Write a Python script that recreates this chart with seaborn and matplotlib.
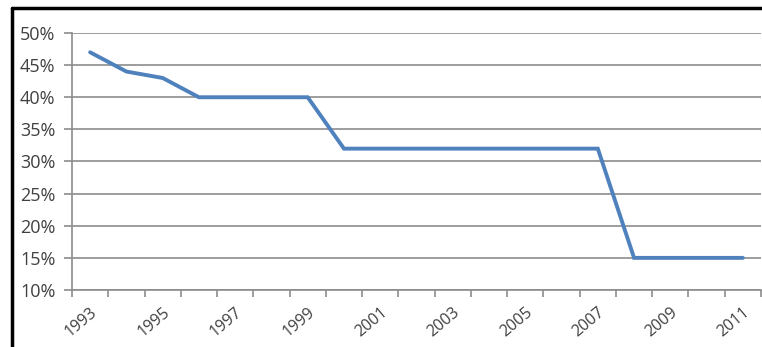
import matplotlib
matplotlib.use("Agg")
import matplotlib.pyplot as plt
from matplotlib.lines import Line2D
from matplotlib.ticker import FuncFormatter, FixedLocator
import pandas as pd
import seaborn as sns

# data
anos = list(range(1993, 2012))
taxa = [47, 44, 43, 40, 40, 40, 40, 32, 32, 32, 32, 32, 32, 32, 32, 15, 15, 15, 15]
rotulos_y = [10, 15, 20, 25, 30, 35, 40, 45, 50]

df = pd.DataFrame({"ano": anos, "taxa": taxa})

sns.set_style("white")
plt.rcParams["font.family"] = ["Open Sans", "DejaVu Sans"]

fig = plt.figure(figsize=(7.62, 3.47), dpi=100)
ax = fig.add_axes([72 / 762, 1 - 290 / 347, 689 / 762, 257 / 347])

sns.lineplot(data=df, x="ano", y="taxa", ax=ax, color="#4F81BD",
             linewidth=2.8, solid_joinstyle="miter")

ax.set_ylim(10, 50)
ax.set_xlim(anos[0] - 0.5, anos[-1] + 0.5)
ax.set_yticks(rotulos_y)
ax.yaxis.set_major_formatter(FuncFormatter(lambda v, p: f"{v:.0f}%"))
ax.yaxis.grid(True, color="#8c8c8c", linewidth=1.2)
ax.set_axisbelow(True)

ax.xaxis.set_major_locator(FixedLocator(anos[::2]))
ax.set_xticklabels([str(a) for a in anos[::2]], rotation=40, ha="right",
                   rotation_mode="anchor")
ax.xaxis.set_minor_locator(FixedLocator([a - 0.5 for a in anos] + [anos[-1] + 0.5]))
ax.tick_params(axis="x", which="major", length=0, pad=10, labelsize=11.5, colors="#404040")
ax.tick_params(axis="x", which="minor", length=5, width=1.2, color="#8c8c8c", bottom=True)
ax.tick_params(axis="y", length=6, width=1.2, color="#8c8c8c", labelsize=13,
               labelcolor="#404040", left=True, pad=6)

ax.set_xlabel("")
ax.set_ylabel("")
for s in ["top", "right"]:
    ax.spines[s].set_visible(False)
for s in ["left", "bottom"]:
    ax.spines[s].set_color("#8c8c8c")
    ax.spines[s].set_linewidth(1.2)

# black frame on the top and left of the picture
fig.add_artist(Line2D([12 / 762, 12 / 762], [0, 1 - 8 / 347], color="black",
                      linewidth=2.5, transform=fig.transFigure))
fig.add_artist(Line2D([12 / 762, 1], [1 - 8 / 347, 1 - 8 / 347], color="black",
                      linewidth=2.5, transform=fig.transFigure))

fig.savefig("out.png", dpi=100)
